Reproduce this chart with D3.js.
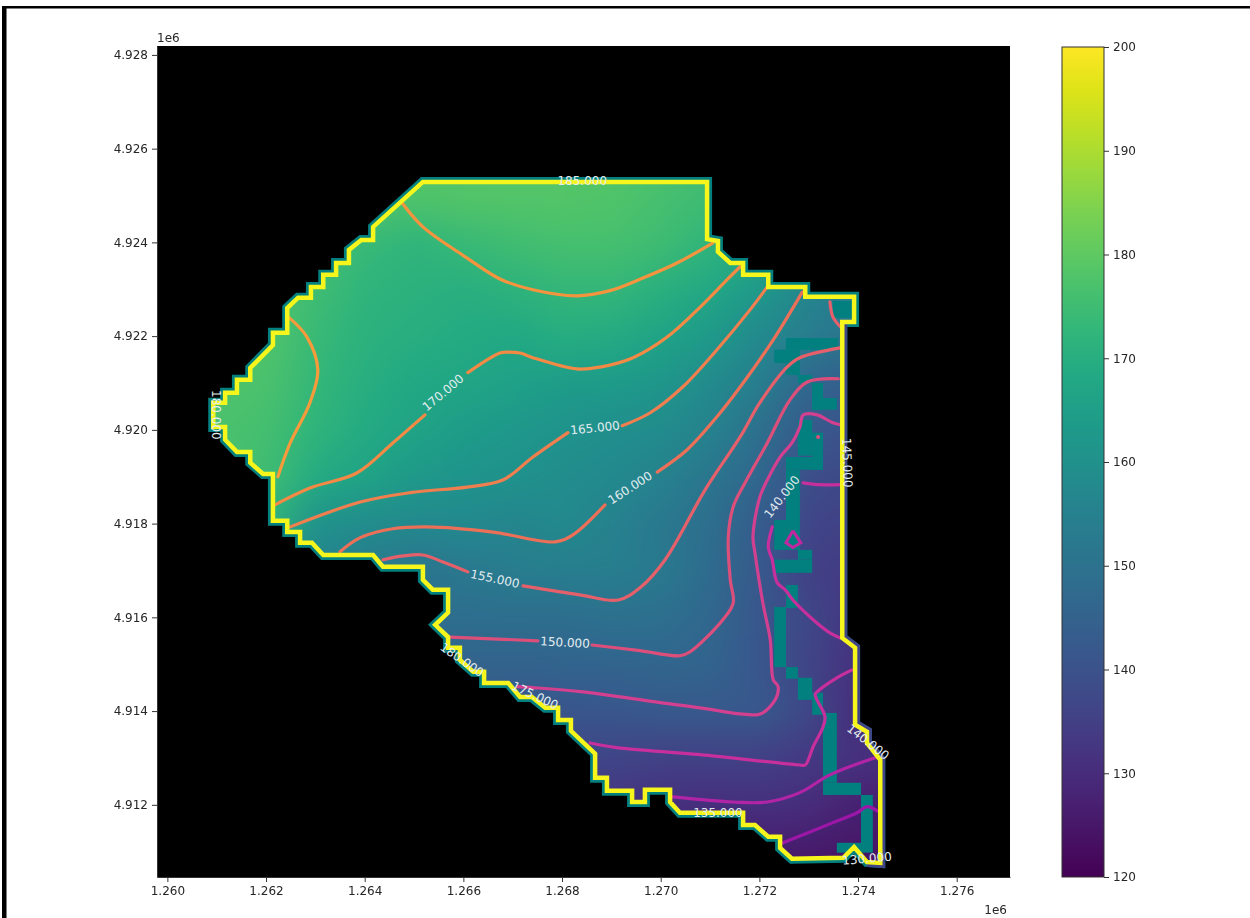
<!DOCTYPE html>
<html>
<head>
<meta charset="utf-8">
<script src="https://cdn.jsdelivr.net/npm/d3@7"></script>
<style>
	html, body { margin: 0; padding: 0; background: #fff; }
	svg { display: block; filter: blur(0.5px); }
	text { font-family: "DejaVu Sans", sans-serif; font-size: 12px; }
	.axis text { fill: #262626; }
	.axis path, .axis line { stroke: #333; }
	.label { fill: #e3edf0; text-anchor: middle; dominant-baseline: central; }
</style>
</head>
<body>
<div class="container"></div>
<script>
// all map coordinates in units of 1e3 (tick labels are shown in 1e6)
const xTicks = [1260, 1262, 1264, 1266, 1268, 1270, 1272, 1274, 1276];
const yTicks = [4912, 4914, 4916, 4918, 4920, 4922, 4924, 4926, 4928];
const barTicks = [120, 130, 140, 150, 160, 170, 180, 190, 200];

// field, one value per 1e3 step
const fieldX = [1260, 1261, 1262, 1263, 1264, 1265, 1266, 1267, 1268, 1269, 1270, 1271, 1272, 1273, 1274, 1275];
const fieldY = [4926, 4925, 4924, 4923, 4922, 4921, 4920, 4919, 4918, 4917, 4916, 4915, 4914, 4913, 4912, 4911, 4910];
const fieldValues = [
	[178, 178, 178, 178, 178, 178, 178.5, 178.5, 178.5, 178.5, 177.5, 176, 174, 170, 166, 163],
	[178, 178, 178, 178, 178, 178, 178.5, 178.5, 178.5, 178, 176.5, 175, 172, 168, 164, 161],
	[178, 178, 178, 176.5, 174, 172, 174, 175.5, 176.5, 176.5, 175, 172, 169, 164, 160, 158],
	[178, 178, 178, 175, 172, 171, 170, 171.5, 173, 173, 170.5, 167.5, 162.5, 156, 154, 152],
	[178, 178, 178, 174, 171, 170, 169, 168, 169.5, 168.5, 166.5, 163, 157.5, 153.5, 150, 148],
	[178, 178, 177, 173, 170, 168, 167, 165.5, 164, 163.5, 162, 158, 153.5, 146, 143, 141],
	[177, 177, 176, 172, 168.5, 166.5, 164, 162.5, 161, 159.5, 158.5, 155, 149, 142, 140, 138],
	[177, 177, 175, 168.5, 166.5, 163, 161.5, 160.5, 159, 157.5, 155.5, 151, 146, 139, 137, 135],
	[175, 175, 172, 160.5, 158.5, 157.5, 157.5, 156.5, 158, 155, 152, 148.5, 143, 136.5, 135, 134],
	[165, 165, 160, 155, 153, 150.5, 152, 153.5, 154, 154, 152.5, 147.5, 142, 135, 133.5, 132],
	[155, 155, 155, 152, 150, 149, 148.5, 148.5, 148.5, 149.5, 149, 146.5, 141.5, 137, 132, 131],
	[150, 150, 150, 149, 147, 146, 145, 145, 145.5, 145.5, 146, 145.5, 141.5, 136, 131, 130],
	[145, 145, 145, 144, 143, 142, 141.5, 141, 141, 141.5, 142, 142, 142, 137, 130, 129],
	[140, 140, 140, 140, 139, 138, 138, 137.5, 137, 136.5, 135.5, 135.5, 135, 133, 131.5, 130],
	[135, 135, 135, 135, 134, 134, 133, 133, 132.5, 132, 131, 130.5, 131, 130, 127, 126],
	[130, 130, 130, 130, 130, 129, 129, 128, 128, 127, 127, 126.5, 126, 125.5, 124.5, 124],
	[126, 126, 126, 126, 126, 126, 125, 125, 125, 124, 124, 124, 123, 123, 122, 122]
];

const boundary = [
	[1265.18, 4925.29], [1270.94, 4925.29], [1270.94, 4924.07], [1271.16, 4924.03], [1271.16, 4923.80],
	[1271.41, 4923.56], [1271.67, 4923.56], [1271.67, 4923.31], [1272.18, 4923.31], [1272.18, 4923.05],
	[1272.93, 4923.05], [1272.93, 4922.84], [1273.92, 4922.84], [1273.92, 4922.30], [1273.68, 4922.30],
	[1273.68, 4915.56], [1273.94, 4915.35], [1273.94, 4913.71], [1274.18, 4913.56], [1274.18, 4913.32],
	[1274.45, 4912.96], [1274.45, 4910.76], [1274.18, 4910.78], [1273.92, 4911.10], [1273.70, 4910.87],
	[1272.66, 4910.85], [1272.42, 4911.08], [1272.42, 4911.32], [1272.18, 4911.32], [1271.91, 4911.57],
	[1271.67, 4911.57], [1271.67, 4911.83], [1270.39, 4911.83], [1270.19, 4912.06], [1270.19, 4912.32],
	[1269.68, 4912.32], [1269.68, 4912.06], [1269.42, 4912.06], [1269.42, 4912.30], [1268.91, 4912.30],
	[1268.91, 4912.58], [1268.67, 4912.58], [1268.67, 4913.09], [1268.18, 4913.58], [1268.18, 4913.81],
	[1267.92, 4913.81], [1267.92, 4914.07], [1267.66, 4914.07], [1267.39, 4914.30], [1267.15, 4914.30],
	[1266.91, 4914.60], [1266.42, 4914.60], [1266.42, 4914.84], [1266.20, 4914.84], [1265.93, 4915.09],
	[1265.93, 4915.35], [1265.69, 4915.35], [1265.69, 4915.58], [1265.43, 4915.84], [1265.69, 4916.10],
	[1265.69, 4916.59], [1265.38, 4916.59], [1265.18, 4916.80], [1265.18, 4917.08], [1264.37, 4917.08],
	[1264.17, 4917.33], [1263.16, 4917.33], [1262.93, 4917.59], [1262.69, 4917.59], [1262.69, 4917.82],
	[1262.43, 4917.82], [1262.43, 4918.06], [1262.14, 4918.06], [1262.14, 4919.06], [1261.94, 4919.06],
	[1261.68, 4919.30], [1261.68, 4919.53], [1261.41, 4919.53], [1261.17, 4919.79], [1261.17, 4920.06],
	[1260.93, 4920.06], [1260.93, 4920.58], [1261.17, 4920.58], [1261.17, 4920.79], [1261.41, 4920.79],
	[1261.41, 4921.07], [1261.68, 4921.07], [1261.68, 4921.32], [1262.14, 4921.81], [1262.14, 4922.07],
	[1262.43, 4922.07], [1262.43, 4922.60], [1262.65, 4922.82], [1262.91, 4922.82], [1262.91, 4923.05],
	[1263.16, 4923.05], [1263.16, 4923.31], [1263.42, 4923.31], [1263.42, 4923.56], [1263.68, 4923.56],
	[1263.68, 4923.84], [1263.93, 4924.05], [1264.17, 4924.05], [1264.17, 4924.33]
];

// stretch of the boundary where the outer cells have field colour, not teal
const eastEdge = boundary.slice(14, 23);

// [x0, x1, yTop, yBottom] of the no-data cells inside the boundary
const tealCells = [
	[1273.49, 1273.88, 4922.75, 4922.39], [1272.54, 1273.59, 4921.96, 4921.71], [1272.30, 1272.82, 4921.71, 4921.43],
	[1272.54, 1272.82, 4921.43, 4921.17], [1272.78, 1273.07, 4921.17, 4921.00], [1273.07, 1273.29, 4921.00, 4920.43],
	[1273.07, 1273.57, 4920.68, 4920.43], [1272.78, 1273.07, 4920.21, 4919.45], [1273.07, 1273.29, 4919.94, 4919.15],
	[1272.54, 1273.29, 4919.42, 4919.15], [1272.54, 1272.82, 4919.15, 4917.44], [1272.30, 1272.54, 4918.08, 4917.44],
	[1272.78, 1273.07, 4917.44, 4917.23], [1272.30, 1273.07, 4917.23, 4916.95], [1272.54, 1272.78, 4916.69, 4916.20],
	[1272.30, 1272.54, 4916.22, 4914.94], [1272.54, 1272.78, 4914.94, 4914.69], [1272.78, 1273.07, 4914.71, 4914.24],
	[1273.07, 1273.29, 4914.39, 4913.92], [1273.29, 1273.57, 4913.96, 4912.47], [1273.29, 1274.06, 4912.47, 4912.21],
	[1274.06, 1274.30, 4912.21, 4910.98], [1273.57, 1274.06, 4911.19, 4910.98]
];

// contour lines, null = gap where the inline label sits
const contour180 = [[1262.45, 4922.41], [1262.83, 4921.98], [1263.05, 4921.28], [1262.89, 4920.58], [1262.49, 4919.72], [1262.24, 4919.00]];
const contour175 = [[1264.76, 4924.84], [1265.18, 4924.33], [1266.07, 4923.67], [1266.74, 4923.22], [1267.41, 4922.99], [1268.30, 4922.86], [1268.97, 4922.97], [1269.64, 4923.24], [1270.33, 4923.56], [1271.06, 4923.99]];
const contour170 = [[1262.18, 4918.40], [1262.89, 4918.76], [1263.84, 4919.08], [1264.57, 4919.72], [1265.22, 4920.32], null, [1266.09, 4921.22], [1266.74, 4921.64], [1266.91, 4921.66], [1267.15, 4921.64], [1267.41, 4921.54], [1268.30, 4921.30], [1268.77, 4921.34], [1269.44, 4921.54], [1270.13, 4921.98], [1270.80, 4922.62], [1271.34, 4923.20], [1271.61, 4923.48]];
const contour165 = [[1262.49, 4917.93], [1263.91, 4918.46], [1264.92, 4918.66], [1266.07, 4918.78], [1266.80, 4918.93], [1267.41, 4919.42], [1268.12, 4919.94], null, [1269.22, 4920.09], [1269.78, 4920.36], [1270.45, 4920.92], [1271.14, 4921.71], [1271.81, 4922.56], [1272.16, 4923.05]];
const contour160 = [[1263.50, 4917.40], [1263.91, 4917.70], [1264.57, 4917.89], [1265.26, 4917.93], [1266.60, 4917.82], [1267.86, 4917.61], [1268.22, 4917.76], [1268.87, 4918.40], null, [1269.93, 4919.10], [1270.53, 4919.57], [1271.14, 4920.28], [1271.67, 4921.00], [1272.28, 4921.92], [1272.87, 4922.94]];
const contour155 = [[1264.37, 4917.23], [1264.78, 4917.31], [1265.18, 4917.33], [1265.59, 4917.18], [1266.09, 4916.97], null, [1267.21, 4916.67], [1268.36, 4916.48], [1269.14, 4916.37], [1269.58, 4916.63], [1270.09, 4917.23], [1270.90, 4918.72], [1271.61, 4919.85], [1272.01, 4920.58], [1272.56, 4921.34], [1272.82, 4921.54], [1273.64, 4921.75], null, [1273.43, 4922.73], [1273.49, 4922.41], [1273.64, 4922.20]];
const contour150 = [[1265.73, 4915.58], [1267.51, 4915.50], null, [1268.61, 4915.41], [1269.58, 4915.29], [1270.39, 4915.18], [1270.59, 4915.26], [1271.26, 4915.95], [1271.47, 4916.31], [1271.41, 4916.80], [1271.37, 4917.72], [1271.47, 4918.36], [1271.71, 4918.87], [1272.16, 4919.72], [1272.62, 4920.64], [1272.97, 4921.02], [1273.60, 4921.09]];
const contour145 = [[1267.09, 4914.52], [1267.41, 4914.50], [1268.43, 4914.41], [1269.99, 4914.18], [1270.80, 4914.07], [1271.61, 4913.94], [1271.95, 4913.92], [1272.07, 4913.96], [1272.32, 4914.24], [1272.38, 4914.52], [1272.28, 4914.67], [1272.22, 4915.52], [1272.07, 4916.31], [1271.91, 4917.38], [1271.87, 4917.72], [1272.01, 4918.57], [1272.16, 4918.93], [1272.42, 4919.42], [1272.66, 4919.72], [1272.82, 4920.06], [1272.89, 4920.32], [1273.17, 4920.32], [1273.49, 4920.15], [1273.64, 4920.11]];
const contour140 = [[1273.64, 4915.56], [1273.43, 4915.67], [1273.09, 4915.95], [1272.68, 4916.37], [1272.52, 4916.59], [1272.36, 4916.74], [1272.26, 4917.23], [1272.18, 4917.50], [1272.26, 4917.93], null, [1272.89, 4918.87], [1273.23, 4918.83], [1273.64, 4918.83], null, [1268.57, 4913.32], [1269.11, 4913.22], [1270.80, 4913.07], [1272.82, 4912.85], [1272.93, 4912.85], [1273.09, 4913.24], [1273.29, 4913.66], [1273.33, 4913.88], [1273.13, 4914.35], [1273.17, 4914.41], [1273.57, 4914.71], [1273.88, 4914.88]];
const contour135 = [[1270.25, 4912.17], [1271.47, 4912.06], [1272.16, 4912.06], [1272.82, 4912.26], [1273.43, 4912.64], [1274.39, 4913.02]];
const contour130 = [[1272.48, 4911.19], [1273.49, 4911.62], [1273.98, 4911.83], [1274.18, 4911.96], [1274.39, 4911.87]];
const islandLine = [[1272.68, 4917.85], [1272.84, 4917.59], [1272.68, 4917.49], [1272.54, 4917.59], [1272.68, 4917.85]];
const islandDot = [1273.19, 4919.85];

const contourLevels = [
	{ line: contour180, color: "#f59b3c" },
	{ line: contour175, color: "#f5943e" },
	{ line: contour170, color: "#f28a45" },
	{ line: contour165, color: "#f07f4f" },
	{ line: contour160, color: "#ec7058" },
	{ line: contour155, color: "#e5606a" },
	{ line: contour150, color: "#dd4f7b" },
	{ line: contour145, color: "#d2408f" },
	{ line: contour140, color: "#c72f9d" },
	{ line: contour135, color: "#b224a6" },
	{ line: contour130, color: "#9c17a8" }
];

const labelText = ["185.000", "180.000", "170.000", "165.000", "160.000", "155.000", "150.000", "140.000", "145.000", "180.000", "175.000", "135.000", "140.000", "130.000"];
const labelX = [1268.41, 1260.99, 1265.59, 1268.67, 1269.38, 1266.64, 1268.06, 1272.46, 1273.78, 1265.97, 1267.45, 1271.16, 1274.20, 1274.18];
const labelY = [4925.31, 4920.32, 4920.79, 4920.04, 4918.76, 4916.82, 4915.46, 4918.57, 4919.30, 4915.09, 4914.33, 4911.83, 4913.34, 4910.85];
const labelAngle = [0, 90, -40, -6, -33, 12, 3, -52, 88, 35, 25, 0, 38, -5];

const outerWidth = 1250;
const outerHeight = 918;
const plot = { left: 157, right: 1010, top: 46, bottom: 877 };
const bar = { left: 1062, right: 1104, top: 47, bottom: 877 };

const svg = d3.select(".container").append("svg")
	.attr("width", outerWidth)
	.attr("height", outerHeight);

// frame left over from the screenshot
svg.append("rect").attr("x", 2).attr("y", 6).attr("width", outerWidth - 2).attr("height", 2.5).attr("fill", "#000");
svg.append("rect").attr("x", 2).attr("y", 6).attr("width", 4.5).attr("height", outerHeight - 6).attr("fill", "#000");

const scaleX = d3.scaleLinear().domain([1259.79, 1277.08]).range([plot.left, plot.right]);
const scaleY = d3.scaleLinear().domain([4910.46, 4928.19]).range([plot.bottom, plot.top]);
const scaleColor = d3.scaleSequential(d3.interpolateViridis).domain([120, 200]);
const scaleBar = d3.scaleLinear().domain([120, 200]).range([bar.bottom, bar.top]);

const line = d3.line()
	.defined((d) => d !== null)
	.x((d) => scaleX(d[0]))
	.y((d) => scaleY(d[1]));

const smoothLine = d3.line()
	.defined((d) => d !== null)
	.curve(d3.curveCatmullRom.alpha(0.5))
	.x((d) => scaleX(d[0]))
	.y((d) => scaleY(d[1]));

svg.append("rect")
	.attr("x", plot.left)
	.attr("y", plot.top)
	.attr("width", plot.right - plot.left)
	.attr("height", plot.bottom - plot.top)
	.attr("fill", "#000");

svg.append("clipPath").attr("id", "inside")
	.append("path")
	.attr("d", line(boundary) + "Z");

// outer strip of cells peeking out from under the yellow line
svg.append("path")
	.attr("d", line(boundary) + "Z")
	.attr("fill", "none")
	.attr("stroke", "#02807f")
	.attr("stroke-width", 10)
	.attr("stroke-linejoin", "miter");

svg.append("path")
	.attr("d", line(eastEdge))
	.attr("fill", "none")
	.attr("stroke", scaleColor(136))
	.attr("stroke-width", 10);

// field raster, the browser smooths it when scaling up
const canvas = document.createElement("canvas");
canvas.width = fieldX.length;
canvas.height = fieldY.length;
const ctx = canvas.getContext("2d");
fieldValues.forEach((row, j) => {
	row.forEach((v, i) => {
		ctx.fillStyle = scaleColor(v);
		ctx.fillRect(i, j, 1, 1);
	});
});

const field = svg.append("g").attr("clip-path", "url(#inside)");

field.append("image")
	.attr("href", canvas.toDataURL())
	.attr("x", scaleX(fieldX[0] - 0.5))
	.attr("y", scaleY(fieldY[0] + 0.5))
	.attr("width", scaleX(fieldX[fieldX.length - 1] + 0.5) - scaleX(fieldX[0] - 0.5))
	.attr("height", scaleY(fieldY[fieldY.length - 1] - 0.5) - scaleY(fieldY[0] + 0.5))
	.attr("preserveAspectRatio", "none")
	.style("filter", "blur(10px)");

field.selectAll(".cell")
	.data(tealCells).enter()
	.append("rect")
		.attr("class", "cell")
		.attr("x", (d) => scaleX(d[0]))
		.attr("y", (d) => scaleY(d[2]))
		.attr("width", (d) => scaleX(d[1]) - scaleX(d[0]))
		.attr("height", (d) => scaleY(d[3]) - scaleY(d[2]))
		.attr("fill", "#02807f");

// contours
svg.selectAll(".contour")
	.data(contourLevels).enter()
	.append("path")
		.attr("class", "contour")
		.attr("d", (d) => smoothLine(d.line))
		.attr("fill", "none")
		.attr("stroke", (d) => d.color)
		.attr("stroke-width", 3.2)
		.attr("stroke-linejoin", "round")
		.attr("stroke-linecap", "round");

svg.append("path")
	.attr("d", line(islandLine))
	.attr("fill", "none")
	.attr("stroke", "#c2279f")
	.attr("stroke-width", 3);

svg.append("circle")
	.attr("cx", scaleX(islandDot[0]))
	.attr("cy", scaleY(islandDot[1]))
	.attr("r", 2)
	.attr("fill", "#dd4f7b");

svg.append("path")
	.attr("d", line(boundary) + "Z")
	.attr("fill", "none")
	.attr("stroke", "#f6f61c")
	.attr("stroke-width", 4.5)
	.attr("stroke-linejoin", "miter");

// inline labels
svg.selectAll(".label")
	.data(labelText).enter()
	.append("text")
		.attr("class", "label")
		.attr("transform", (d, i) => `translate(${scaleX(labelX[i])},${scaleY(labelY[i])}) rotate(${labelAngle[i]})`)
		.text((d) => d);

// axes
const fmt = (d) => (d / 1000).toFixed(3);

svg.append("g")
	.attr("class", "axis")
	.attr("transform", `translate(0,${plot.bottom})`)
	.call(d3.axisBottom(scaleX).tickValues(xTicks).tickFormat(fmt).tickSize(5).tickSizeOuter(0).tickPadding(4));

svg.append("g")
	.attr("class", "axis")
	.attr("transform", `translate(${plot.left},0)`)
	.call(d3.axisLeft(scaleY).tickValues(yTicks).tickFormat(fmt).tickSize(5).tickSizeOuter(0).tickPadding(4));

svg.append("text").attr("x", plot.left).attr("y", 42).attr("fill", "#262626").text("1e6");
svg.append("text").attr("x", plot.right - 3).attr("y", 914).attr("text-anchor", "end").attr("fill", "#262626").text("1e6");

// colorbar
const gradient = svg.append("defs").append("linearGradient")
	.attr("id", "viridis")
	.attr("x1", 0).attr("x2", 0)
	.attr("y1", 1).attr("y2", 0);

d3.range(0, 81, 4).forEach((step) => {
	gradient.append("stop")
		.attr("offset", `${step / 80 * 100}%`)
		.attr("stop-color", d3.interpolateViridis(step / 80));
});

svg.append("rect")
	.attr("x", bar.left)
	.attr("y", bar.top)
	.attr("width", bar.right - bar.left)
	.attr("height", bar.bottom - bar.top)
	.attr("fill", "url(#viridis)")
	.attr("stroke", "#333");

const barAxis = svg.append("g")
	.attr("class", "axis")
	.attr("transform", `translate(${bar.right},0)`)
	.call(d3.axisRight(scaleBar).tickValues(barTicks).tickFormat(d3.format("d")).tickSize(5).tickPadding(4));

barAxis.select(".domain").remove();
</script>
</body>
</html>
